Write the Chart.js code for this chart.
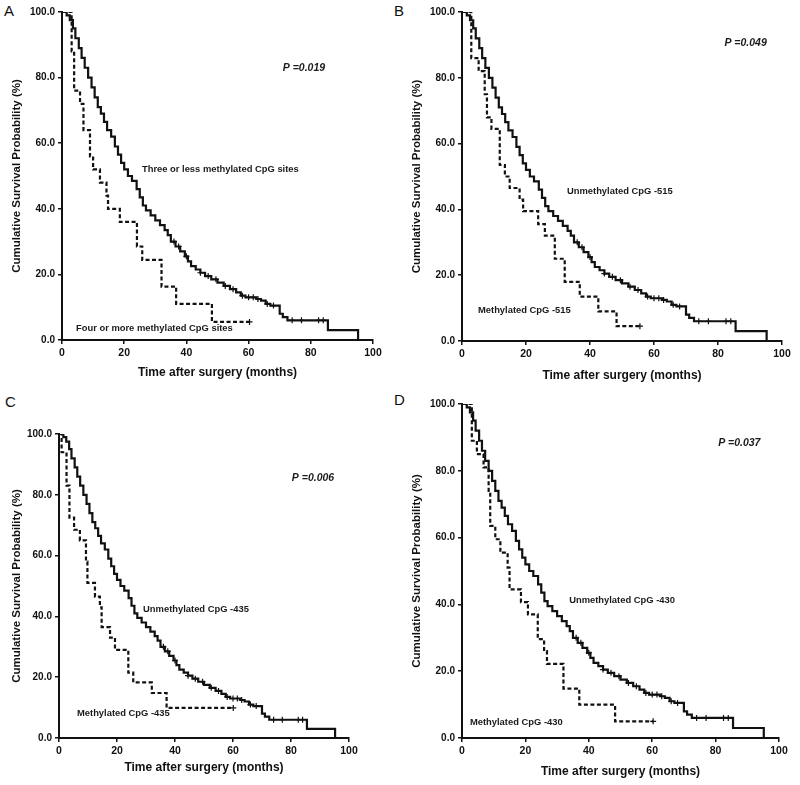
<!DOCTYPE html>
<html lang="en">
<head>
<meta charset="UTF-8">
<title>Survival by CpG methylation</title>
<style>
    body { margin: 0; background: white; }
    .panel { position: absolute; }
    .tag { position: absolute; font: 15px "Liberation Sans", Arial, sans-serif; color: #111; }
</style>
</head>
<body>
<div class="tag" style="left:4px;top:2px">A</div>
<div class="tag" style="left:394px;top:2px">B</div>
<div class="tag" style="left:5px;top:393px">C</div>
<div class="tag" style="left:394px;top:391px">D</div>

<canvas class="panel" id="chartA" width="400" height="390" style="left:0;top:0"></canvas>
<canvas class="panel" id="chartB" width="400" height="390" style="left:400px;top:0"></canvas>
<canvas class="panel" id="chartC" width="400" height="395" style="left:0;top:390px"></canvas>
<canvas class="panel" id="chartD" width="400" height="395" style="left:400px;top:390px"></canvas>

<script src="https://cdn.jsdelivr.net/npm/chart.js@4.4.0/dist/chart.umd.min.js"></script>
<script>
// majority group (solid line) - nearly the same curve in all four panels
const mainTime = [0, 1.5, 2.5, 3.5, 4.3, 5.4, 6.3, 7.3, 8.4, 9.5, 10.5, 11.5, 12.5, 13.5, 14.5, 15.8, 17, 18, 19, 20,
    21.2, 22.5, 24, 25, 26, 27, 28.5, 30, 31.5, 33, 34, 35, 36.5, 38, 39.5, 40.5, 41.5, 43, 44.5, 46,
    48, 50, 52, 54, 56, 57.5, 59, 62.5, 64, 65.5, 67, 70, 71, 72.5, 85.5, 95.2];
const mainSurv = [100, 99, 97.5, 95, 92, 89, 86, 83, 80, 77, 74, 71, 69, 66.5, 64, 62, 59, 56.5, 54, 52,
    50, 48.5, 46, 43.5, 41, 39.5, 38, 36.5, 35, 33.5, 32, 30, 28.5, 27, 25.5, 24, 22.5, 21.5, 20.5, 19.5,
    18.5, 17.5, 16.5, 15.5, 14.5, 13.5, 13, 12.5, 12, 11, 10.5, 8, 7, 6, 3, 0];
const mainCensored = [36, 37.5, 40, 44.5, 47, 49.5, 52.5, 55, 58, 60, 61.5, 63, 66, 68, 74, 77, 82.5, 84];

// minority groups (dashed line)
const dashTimeA = [0, 3.1, 3.9, 5.8, 6.9, 9, 10, 12.2, 14.3, 14.8, 18.6, 24.1, 25.8, 32, 36.7, 48.2, 60.3];
const dashSurvA = [100, 88, 76, 72, 64, 56, 52, 48, 44, 40, 36, 28.5, 24.4, 16.3, 11, 5.5, 5.5];
const dashCensA = [60.3];

const dashTimeB = [0, 2.9, 5.2, 7.1, 7.8, 9.2, 11.8, 13.4, 14.9, 18, 19.1, 23.8, 25.9, 29, 32.1, 36.8, 42.6, 48.3, 55.6];
const dashSurvB = [100, 86, 82, 75, 68, 64.5, 53.5, 50, 46.5, 43, 39.5, 35.5, 32, 25, 18, 13.5, 9, 4.5, 4.5];
const dashCensB = [55.6];

const dashTimeC = [0, 0.9, 2.6, 3.6, 5.2, 7.2, 9.3, 9.8, 12.4, 14.1, 14.7, 17.6, 19.3, 23.9, 25.6, 32, 37.1, 60.1];
const dashSurvC = [100, 94, 83, 72.5, 68.5, 65, 58, 51, 46.5, 43, 36.5, 33, 29, 21.5, 18.3, 14.8, 9.9, 9.9];
const dashCensC = [60.1];

const dashTimeD = [0, 3.1, 4.7, 6.8, 8.4, 8.9, 10.5, 12.1, 14.4, 15, 18.6, 20.8, 23.9, 25.9, 26.8, 32, 37, 48.3, 60.3];
const dashSurvD = [100, 89, 85, 81, 74, 63.5, 59.5, 55.5, 51, 44.5, 40.7, 37, 29.6, 26, 22.2, 14.8, 10, 5, 5];
const dashCensD = [60.3];

const xTicks = [0, 20, 40, 60, 80, 100];
const yTicks = [0, 20, 40, 60, 80, 100];

const FONT = '"Liberation Sans", Arial, sans-serif';

// survival value in effect at time t (step function lookup)
const survAt = (times, surv, t) => {
    let s = surv[0];
    times.forEach((tt, i) => { if (tt <= t) s = surv[i]; });
    return s;
};

const toPoints = (times, surv) => times.map((t, i) => ({ x: t, y: surv[i] }));

const panels = [
    { id: 'chartA', dT: dashTimeA, dS: dashSurvA, dC: dashCensA,
      notes: [['P =0.019', 71, 83, true], ['Three or less methylated CpG sites', 25.7, 52], ['Four or more methylated CpG sites', 4.5, 3.4]],
      yw: 62, top: 12, right: 27, xh: 50, tb: 10 },
    { id: 'chartB', dT: dashTimeB, dS: dashSurvB, dC: dashCensB,
      notes: [['P =0.049', 82, 90.6, true], ['Unmethylated CpG -515', 32.8, 45.6], ['Methylated CpG -515', 5, 9.4]],
      yw: 62, top: 12, right: 18, xh: 49, tb: 7.5 },
    { id: 'chartC', dT: dashTimeC, dS: dashSurvC, dC: dashCensC,
      notes: [['P =0.006', 80.3, 85.5, true], ['Unmethylated CpG -435', 29, 42.4], ['Methylated CpG -435', 6.2, 8.2]],
      yw: 59, top: 44, right: 51, xh: 47, tb: 10 },
    { id: 'chartD', dT: dashTimeD, dS: dashSurvD, dC: dashCensD,
      notes: [['P =0.037', 80.8, 88.3, true], ['Unmethylated CpG -430', 33.8, 41.3], ['Methylated CpG -430', 2.5, 4.8]],
      yw: 62, top: 14, right: 21, xh: 47, tb: 6.5 }
];

const notesPlugin = {
    id: 'notes',
    afterDatasetsDraw(chart, args, opts) {
        const ctx = chart.ctx;
        const xs = chart.scales.x, ys = chart.scales.y;
        ctx.save();
        ctx.fillStyle = '#1a1a1a';
        ctx.textBaseline = 'middle';
        ctx.textAlign = 'left';
        opts.items.forEach(([text, x, y, italic]) => {
            ctx.font = italic ? 'italic bold 10.5px ' + FONT : 'bold 9.4px ' + FONT;
            ctx.fillText(text, xs.getPixelForValue(x), ys.getPixelForValue(y));
        });
        ctx.restore();
    }
};

panels.forEach(p => {
    const censMain = mainCensored.map(t => ({ x: t, y: survAt(mainTime, mainSurv, t) }));
    const censDash = p.dC.map(t => ({ x: t, y: survAt(p.dT, p.dS, t) }));

    new Chart(document.getElementById(p.id), {
        type: 'line',
        data: {
            datasets: [
                { data: toPoints(mainTime, mainSurv), stepped: true, borderColor: '#111', borderWidth: 2.2, pointRadius: 0 },
                { data: toPoints(p.dT, p.dS), stepped: true, borderColor: '#111', borderWidth: 2.2, borderDash: [4, 2.5], pointRadius: 0 },
                { data: censMain.concat(censDash), showLine: false, pointStyle: 'cross', pointRadius: 3,
                  borderColor: '#111', borderWidth: 1.2 }
            ]
        },
        options: {
            responsive: false,
            animation: false,
            layout: { padding: { top: p.top, right: p.right, left: 0, bottom: 0 } },
            plugins: {
                legend: { display: false },
                tooltip: { enabled: false },
                notes: { items: p.notes }
            },
            scales: {
                x: {
                    type: 'linear', min: 0, max: 100,
                    afterBuildTicks: s => { s.ticks = xTicks.map(v => ({ value: v })); },
                    afterFit: s => { s.height = p.xh; },
                    grid: { drawOnChartArea: false, drawTicks: true, tickLength: 4, color: '#111', lineWidth: 1.5 },
                    border: { color: '#111', width: 2 },
                    ticks: { color: '#111', padding: 3, font: { family: FONT, size: 10.5, weight: 'bold' }, maxRotation: 0 },
                    title: { display: true, text: 'Time after surgery (months)', color: '#111',
                             font: { family: FONT, size: 12, weight: 'bold' }, padding: { top: 0, bottom: p.tb } }
                },
                y: {
                    min: 0, max: 100,
                    afterBuildTicks: s => { s.ticks = yTicks.map(v => ({ value: v })); },
                    afterFit: s => { s.width = p.yw; },
                    grid: { drawOnChartArea: false, drawTicks: true, tickLength: 4, color: '#111', lineWidth: 1.5 },
                    border: { color: '#111', width: 2 },
                    ticks: { color: '#111', padding: 3, font: { family: FONT, size: 10, weight: 'bold' },
                             callback: v => v.toFixed(1) },
                    title: { display: true, text: 'Cumulative Survival Probability (%)', color: '#111',
                             font: { family: FONT, size: 11.5, weight: 'bold' }, padding: { top: 10, bottom: 0 } }
                }
            }
        },
        plugins: [notesPlugin]
    });
});
</script>
</body>
</html>
